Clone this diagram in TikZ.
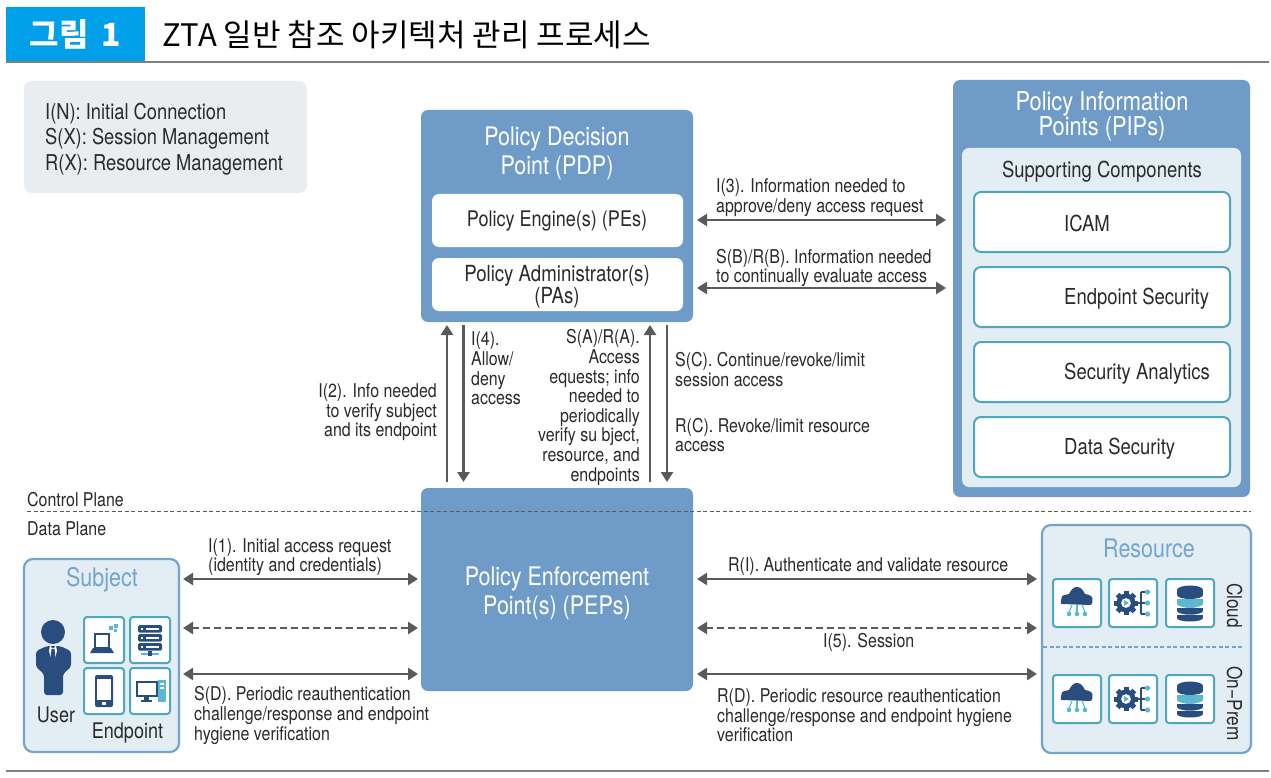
\documentclass[tikz,border=0pt]{standalone}
\usepackage{fontspec}
\setmainfont[FakeStretch=0.84]{TeX Gyre Heros}
\newfontfamily\cjk{Noto Sans CJK KR}
\usetikzlibrary{arrows.meta,shapes.geometric}
\definecolor{pblue}{HTML}{6F9BC8}
\definecolor{pale}{HTML}{E3EEF4}
\definecolor{edge}{HTML}{72A4CF}
\definecolor{teal}{HTML}{4FA6BE}
\definecolor{navy}{HTML}{2A4D80}
\definecolor{sky}{HTML}{5BB8D3}
\definecolor{arrowc}{HTML}{5A5A5A}
\definecolor{ink}{HTML}{2A2A2A}
\definecolor{hdrblue}{HTML}{00A0E9}
\definecolor{legendc}{HTML}{E9EDF0}
\tikzset{
 x=1pt,y=-1pt,
 corners/.style n args={4}{at={({(#1+#3)/2},{(#2+#4)/2})},minimum width={#3-#1},minimum height={#4-#2}},
 bigbox/.style={fill=pblue,draw=none,rounded corners=7pt,inner sep=0pt},
 whitebox/.style={fill=white,draw=none,rounded corners=7pt,inner sep=0pt},
 boxtext/.style={text=ink,font=\fontsize{21.5}{22}\selectfont,align=center,inner sep=0pt},
 palebox/.style={fill=pale,draw=edge,line width=2.2pt,rounded corners=9pt,inner sep=0pt},
 tealbox/.style={fill=white,draw=teal,line width=2pt,rounded corners=7pt,inner sep=0pt},
 tealtext/.style={text=ink,font=\fontsize{22}{23}\selectfont,inner sep=0pt,anchor=west},
 iconbox/.style={fill=white,draw=teal,line width=2pt,rounded corners=3pt,inner sep=0pt},
 lbl/.style={text=ink,font=\fontsize{19}{19.6}\selectfont,inner sep=0pt,align=left,anchor=west,yshift=-1.5pt},
 rlbl/.style={lbl,align=right,anchor=east},
 wtitle/.style={text=white,font=\fontsize{25.6}{29}\selectfont,align=center,inner sep=0pt},
 btitle/.style={text=edge,font=\fontsize{25.6}{26}\selectfont,inner sep=0pt},
 conn/.style={draw=arrowc,line width=2.6pt,{Stealth[length=10pt,width=12pt,inset=0pt]}-{Stealth[length=10pt,width=12pt,inset=0pt]}},
 onearrow/.style={draw=arrowc,line width=2.6pt,-{Stealth[length=10pt,width=12pt,inset=0pt]}},
 dconn/.style={conn,dash pattern=on 7pt off 4pt},
 pics/laptop/.style={code={
  \fill[sky] (5,-14) rectangle +(4,4); \fill[sky] (10,-16) rectangle +(4,4); \fill[sky] (10,-11) rectangle +(3,3);
  \draw[navy,line width=1.5pt] (-9,-6) rectangle (5,8);
  \fill[navy] (-11,8) -- (7,8) -- (10,13) -- (-14,13) -- cycle;}},
 pics/server/.style={code={
  \foreach \yy in {-15,-6,3}{\fill[navy,rounded corners=1.5pt] (-12,\yy) rectangle +(24,7.5);
   \fill[white] (-9,\yy+3) rectangle +(2,1.5); \fill[white] (-4,\yy+3) rectangle +(13,1.5);}
  \draw[sky,line width=1.2pt] (-9,14) -- (9,14);
  \fill[navy] (-2,11) rectangle (2,16);}},
 pics/phone/.style={code={
  \fill[navy,rounded corners=2pt] (-9,-16) rectangle (9,16);
  \fill[white] (-7,-12) rectangle (7,9);
  \fill[white] (-2,11) rectangle (2,14);}},
 pics/desktop/.style={code={
  \draw[navy,line width=1.8pt] (-13,-9) rectangle (7,5);
  \fill[navy] (-6,6) rectangle (-1,9); \fill[navy] (-9,9) rectangle (2,11);
  \fill[sky] (8,-11) rectangle (16,11);
  \fill[white] (10,-8) rectangle (14,-6.5); \fill[white] (10,-4) rectangle (14,-2.5);}},
 pics/cloud/.style={code={
  \fill[navy] (-15,1) to[out=180,in=270] (-15.5,-5) to[out=90,in=200] (-8,-9) to[out=60,in=180] (0,-16) to[out=0,in=120] (8,-9) to[out=-10,in=90] (15.5,-4) to[out=270,in=0] (13,2) -- cycle;
  \foreach \xx/\bx in {-10/-8,0/0,10/8}{\draw[sky,line width=1.1pt] (\xx*.5,2) -- (\bx,9);\fill[sky] (\bx,11) circle (2.3);}}},
 pics/gear/.style={code={
  \foreach \a in {0,45,...,315}{\fill[navy,rotate around={\a:(-7,0)}] (-9.5,-12) rectangle (-4.5,-8);}
  \fill[navy,even odd rule] (-7,0) circle (9.5) (-7,0) circle (5);
  \fill[sky] (-9,-3) -- (-4,0) -- (-9,3) -- cycle;
  \draw[navy,line width=1.3pt] (3,0) -- (8,0) (8,-11) -- (8,11) (8,-11) -- (12,-11) (8,0) -- (12,0) (8,11) -- (12,11);
  \foreach \yy in {-11,0,11}{\fill[sky] (14.5,\yy) circle (2.6);}}},
 pics/db/.style={code={
  \fill[navy] (0,-13) ellipse (13 and 4.5);
  \fill[navy] (-13,-13) rectangle (13,-8);
  \fill[navy] (0,-8) ellipse (13 and 4);
  \fill[sky] (-13,-4) rectangle (13,1);
  \fill[sky] (0,1) ellipse (13 and 3.5);
  \fill[navy] (-13,5) rectangle (13,8);
  \fill[navy] (0,8) ellipse (13 and 3.5);
  \fill[navy] (-13,12) rectangle (13,15);
  \fill[navy] (0,15) ellipse (13 and 3.5);}},
}
\begin{document}
\begin{tikzpicture}
\useasboundingbox (0,0) rectangle (1271,778);
\fill[white] (0,0) rectangle (1271,778);
% header
\node[corners={6}{7}{145}{61},fill=hdrblue,inner sep=0pt,text=white,font=\cjk\bfseries\fontsize{32}{32}\selectfont] (hdr) {그림\hspace{13pt}1};
\node[anchor=west,inner sep=0pt,text=black,font=\cjk\fontsize{31}{32}\selectfont] (title) at (162,35) {ZTA 일반 참조 아키텍처 관리 프로세스};
\draw[gray,line width=1.2pt] (6,62) -- (1269,62);
\draw[gray,line width=1.2pt] (6,771) -- (1269,771);
% legend
\node[corners={24}{81}{307}{193},fill=legendc,rounded corners=8pt,inner sep=0pt] (legend) {};
\node[lbl,font=\fontsize{21.8}{25.7}\selectfont] (legendtext) at (45,137.5) {I(N): Initial Connection\\S(X): Session Management\\R(X): Resource Management};
% PDP
\node[bigbox,corners={421}{110}{693}{322}] (pdp) {};
\node[wtitle] (pdpt) at (557,153.5) {Policy Decision\\Point (PDP)};
\node[whitebox,corners={432}{194}{683}{247}] (pe) {};
\node[boxtext] (pet) at (557,221) {Policy Engine(s) (PEs)};
\node[whitebox,corners={432}{258}{683}{311}] (pa) {};
\node[boxtext,font=\fontsize{22.2}{22.5}\selectfont] (pat) at (557,287) {Policy Administrator(s)\\(PAs)};
% PIP
\node[bigbox,corners={953}{80}{1250}{497}] (pip) {};
\node[wtitle,font=\fontsize{26}{25.5}\selectfont] (pipt) at (1102,116) {Policy Information\\Points (PIPs)};
\node[corners={962}{148}{1241}{487},fill=pale,rounded corners=7pt,inner sep=0pt] (sc) {};
\node[tealtext,anchor=center] (sct) at (1102,172) {Supporting Components};
\node[tealbox,corners={974}{192}{1230}{252}] (icam) {};
\node[tealbox,corners={974}{267}{1230}{327}] (epsec) {};
\node[tealbox,corners={974}{342}{1230}{402}] (secan) {};
\node[tealbox,corners={974}{417}{1230}{477}] (dsec) {};
\node[tealtext] (icamt) at (1064,223) {ICAM};
\node[tealtext] (epsect) at (1064,299) {Endpoint Security};
\node[tealtext] (secant) at (1064,374) {Security Analytics};
\node[tealtext] (dsect) at (1064,449) {Data Security};
% PEP
\node[bigbox,corners={421}{488}{693}{691}] (pep) {};
\node[wtitle] (pept) at (557,593) {Policy Enforcement\\Point(s) (PEPs)};
% plane line
\draw[arrowc,line width=1pt,dash pattern=on 4pt off 2.5pt] (27,511) -- (1251,511);
\node[lbl] (cp) at (27,498) {Control Plane};
\node[lbl] (dp) at (27,527) {Data Plane};
% subject
\node[palebox,corners={24}{559}{179}{752}] (subj) {};
\node[btitle] (subjt) at (102,580) {Subject};
\fill[navy] (53,632) circle (12);
\fill[navy,rounded corners=3pt] (47,646) -- (36,651) -- (36,667) -- (44,674) -- (44,695) -- (63,695) -- (63,674) -- (71,667) -- (71,651) -- (60,646) -- cycle;
\fill[white] (50,645.5) -- (53,649) -- (56,645.5) -- (57,651) -- (54.5,660) -- (51.5,660) -- (49,651) -- cycle;
\fill[navy] (51.5,649) -- (54.5,649) -- (55.5,658) -- (53,663) -- (50.5,658) -- cycle;
\node[lbl,anchor=center,font=\fontsize{21.5}{22}\selectfont,yshift=1.5pt] (usert) at (56,715) {User};
\node[iconbox,corners={84}{617}{124}{663}] (ep1) {};
\node[iconbox,corners={130}{617}{170}{663}] (ep2) {};
\node[iconbox,corners={84}{668}{124}{714}] (ep3) {};
\node[iconbox,corners={130}{668}{170}{714}] (ep4) {};
\pic at (ep1) {laptop};
\pic at (ep2) {server};
\pic at (ep3) {phone};
\pic at (ep4) {desktop};
\node[lbl,anchor=center,font=\fontsize{21.5}{22}\selectfont] (ept) at (127.5,731.5) {Endpoint};
% resource
\node[palebox,corners={1042}{525}{1251}{753}] (res) {};
\node[btitle] (rest) at (1149,548) {Resource};
\node[iconbox,corners={1053}{579}{1101}{627}] (r1) {};
\node[iconbox,corners={1109}{579}{1157}{627}] (r2) {};
\node[iconbox,corners={1166}{579}{1214}{627}] (r3) {};
\node[iconbox,corners={1053}{675}{1101}{723}] (r4) {};
\node[iconbox,corners={1109}{675}{1157}{723}] (r5) {};
\node[iconbox,corners={1166}{675}{1214}{723}] (r6) {};
\pic at (r1) {cloud};
\pic at (r2) {gear};
\pic at (r3) {db};
\pic at (r4) {cloud};
\pic at (r5) {gear};
\pic at (r6) {db};
\draw[edge,line width=1.5pt,dash pattern=on 4pt off 2.5pt] (1043,647) -- (1243,647);
\node[lbl,anchor=center,rotate=-90,font=\fontsize{20.5}{21}\selectfont,yshift=1.5pt] (cloudt) at (1233,604) {Cloud};
\node[lbl,anchor=center,rotate=-90,font=\fontsize{20.5}{21}\selectfont,yshift=1.5pt] (onpremt) at (1233,702) {On−Prem};
% connectors
\coordinate (a1) at (697,220); \coordinate (a2) at (946,220);
\coordinate (b1) at (697,288); \coordinate (b2) at (946,288);
\draw[conn] (a1) -- (a2);
\draw[conn] (b1) -- (b2);
\coordinate (c1) at (183,579); \coordinate (c2) at (418,579);
\coordinate (d1) at (183,628); \coordinate (d2) at (418,628);
\coordinate (e1) at (183,674); \coordinate (e2) at (418,674);
\coordinate (f1) at (697,579); \coordinate (f2) at (1037,579);
\coordinate (g1) at (697,628); \coordinate (g2) at (1037,628);
\coordinate (h1) at (697,674); \coordinate (h2) at (1037,674);
\draw[conn] (c1) -- (c2);
\draw[dconn] (d1) -- (d2);
\draw[conn] (e1) -- (e2);
\draw[conn] (f1) -- (f2);
\draw[dconn] (g1) -- (g2);
\draw[conn] (h1) -- (h2);
\coordinate (v1) at (447,482); \coordinate (v1t) at (447,325);
\coordinate (v2) at (463.5,325); \coordinate (v2t) at (463.5,482);
\coordinate (v3) at (650,482); \coordinate (v3t) at (650,325);
\coordinate (v4) at (667,325); \coordinate (v4t) at (667,482);
\draw[onearrow] (v1) -- (v1t);
\draw[onearrow] (v2) -- (v2t);
\draw[onearrow] (v3) -- (v3t);
\draw[onearrow] (v4) -- (v4t);
% labels
\node[lbl] (l1) at (716,196) {I(3). Information needed to\\approve/deny access request};
\node[lbl] (l2) at (716,266.5) {S(B)/R(B). Information needed\\to continually evaluate access};
\node[rlbl] (l3) at (437,411) {I(2). Info needed\\to verify subject\\and its endpoint};
\node[lbl] (l4) at (471,367) {I(4).\\Allow/\\deny\\access};
\node[rlbl] (l5) at (640,406) {S(A)/R(A).\\Access\\equests; info\\needed to\\periodically\\verify su bject,\\resource, and\\endpoints};
\node[lbl] (l6) at (675,368) {S(C). Continue/revoke/limit\\session access};
\node[lbl] (l7) at (675,433.5) {R(C). Revoke/limit resource\\access};
\node[lbl] (l8) at (208,555.5) {I(1). Initial access request\\(identity and credentials)};
\node[lbl] (l9) at (823,641) {I(5). Session};
\node[lbl] (l10) at (728,565) {R(I). Authenticate and validate resource};
\node[lbl] (l11) at (194,714) {S(D). Periodic reauthentication\\challenge/response and endpoint\\hygiene verification};
\node[lbl] (l12) at (717,714) {R(D). Periodic resource reauthentication\\challenge/response and endpoint hygiene\\verification};
\end{tikzpicture}
\end{document}
